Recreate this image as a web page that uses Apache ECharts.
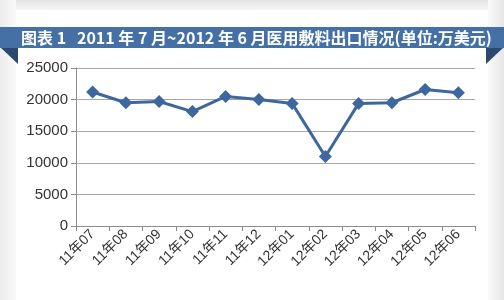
<!DOCTYPE html>
<html><head><meta charset="utf-8">
<script src="https://cdn.jsdelivr.net/npm/echarts@6/dist/echarts.min.js"></script>
<style>html,body{margin:0;padding:0;background:#fff}#c{width:504px;height:300px}</style>
</head><body><div id="c"></div>
<script>
const categories = ['11年07','11年08','11年09','11年10','11年11','11年12','12年01','12年02','12年03','12年04','12年05','12年06'];
const exportValues = [21200, 19500, 19700, 18100, 20500, 20000, 19400, 11000, 19400, 19500, 21600, 21100];
const yTicks = [0, 5000, 10000, 15000, 20000, 25000];
const titleText = '图表 1   2011 年 7 月~2012 年 6 月医用敷料出口情况(单位:万美元)';

const chart = echarts.init(document.getElementById('c'), null, {renderer: 'canvas'});
chart.setOption({
  backgroundColor: '#ffffff',
  animation: false,
  graphic: [
    {type: 'rect', shape: {x: 0, y: 0, width: 504, height: 300}, style: {fill: '#ffffff'}, z: -10},
    {type: 'rect', shape: {x: 0, y: 0, width: 504, height: 10}, style: {fill: new echarts.graphic.LinearGradient(0,0,0,1,[{offset:0,color:'#e4e4e4'},{offset:1,color:'#f6f6f6'}])}, z: -9},
    {type: 'rect', shape: {x: 0, y: 0, width: 16, height: 300}, style: {fill: new echarts.graphic.LinearGradient(0,0,1,0,[{offset:0,color:'#ececec'},{offset:1,color:'#fafafa'}])}, z: -9},
    {type: 'rect', shape: {x: 488, y: 0, width: 16, height: 300}, style: {fill: new echarts.graphic.LinearGradient(0,0,1,0,[{offset:0,color:'#fafafa'},{offset:1,color:'#e6e6e6'}])}, z: -9},
    {type: 'polygon', shape: {points: [[0,47],[18,47],[18,64]]}, style: {fill: '#2c4a70'}, z: 5},
    {type: 'polygon', shape: {points: [[486,47],[504,47],[486,64]]}, style: {fill: '#2c4a70'}, z: 5},
    {type: 'rect', shape: {x: 0, y: 27, width: 504, height: 21}, style: {fill: '#4470a6'}, z: 6},
    {type: 'text', x: 21, y: 38, style: {text: titleText, fill: '#ffffff', font: 'bold 16px "Noto Sans CJK SC", sans-serif', verticalAlign: 'middle'}, z: 7}
  ],
  grid: {left: 76, right: 29, top: 68, bottom: 74},
  xAxis: {
    type: 'category',
    data: categories,
    boundaryGap: true,
    axisLine: {lineStyle: {color: '#8c8c8c', width: 1}},
    axisTick: {show: true, length: 5, lineStyle: {color: '#8c8c8c'}},
    axisLabel: {rotate: 45, color: '#333333', fontSize: 14, fontFamily: '"Liberation Sans", "Noto Sans CJK SC", sans-serif', margin: 6}
  },
  yAxis: {
    type: 'value',
    min: yTicks[0], max: yTicks[yTicks.length-1], interval: 5000,
    axisLine: {show: true, lineStyle: {color: '#8c8c8c'}},
    axisTick: {show: true, length: 5, lineStyle: {color: '#8c8c8c'}},
    axisLabel: {color: '#333333', fontSize: 15, fontFamily: '"Liberation Sans", sans-serif', margin: 8, formatter: v => String(v)},
    splitLine: {show: true, lineStyle: {color: '#a6a6a6', width: 1}}
  },
  series: [{
    type: 'line',
    data: exportValues,
    symbol: 'diamond',
    symbolSize: 13,
    lineStyle: {color: '#3d679e', width: 3},
    itemStyle: {color: '#3d679e'}
  }]
});
</script></body></html>
